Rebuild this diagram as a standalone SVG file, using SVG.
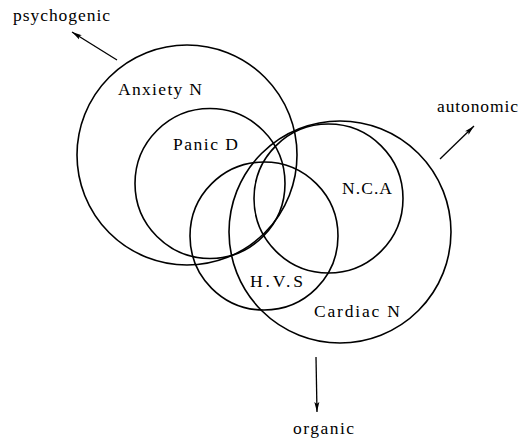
<svg xmlns="http://www.w3.org/2000/svg" width="532" height="440" viewBox="0 0 532 440">
<style>
.c{fill:none;stroke:#000;stroke-width:1.6}
.a{stroke:#000;stroke-width:1.3;fill:none}
.t{font-family:'Liberation Serif','Times New Roman',serif;font-size:17.5px;fill:#000}
</style>
<defs>
<marker id="ah" viewBox="0 0 10 6" refX="10" refY="3" markerWidth="10" markerHeight="6" markerUnits="userSpaceOnUse" orient="auto">
<path d="M0,0.5 L10,3 L0,5.5 L2,3 Z" fill="#000"/>
</marker>
</defs>
<rect width="532" height="440" fill="#fff"/>
<g id="anxiety"><circle class="c" cx="187" cy="155" r="110"/><text class="t" x="118" y="95" textLength="84" lengthAdjust="spacing">Anxiety N</text></g>
<g id="panic"><circle class="c" cx="210" cy="183.5" r="75"/><text class="t" x="173" y="150" textLength="65" lengthAdjust="spacing">Panic D</text></g>
<g id="hvs"><circle class="c" cx="264" cy="236" r="74"/><text class="t" x="250" y="287" textLength="53" lengthAdjust="spacing">H.V.S</text></g>
<g id="nca"><circle class="c" cx="328.5" cy="198.5" r="74.5"/><text class="t" x="342" y="194" textLength="50" lengthAdjust="spacing">N.C.A</text></g>
<g id="cardiac"><circle class="c" cx="340" cy="232" r="111"/><text class="t" x="314" y="317" textLength="86" lengthAdjust="spacing">Cardiac N</text></g>
<g id="psychogenic"><text class="t" x="13" y="21" textLength="97" lengthAdjust="spacing">psychogenic</text></g>
<g id="autonomic"><text class="t" x="437" y="112" textLength="81" lengthAdjust="spacing">autonomic</text></g>
<g id="organic"><text class="t" x="293" y="434" textLength="61" lengthAdjust="spacing">organic</text></g>
<g id="connectors">
<line class="a" x1="117" y1="60" x2="72" y2="32" marker-end="url(#ah)"/>
<line class="a" x1="440" y1="159" x2="474" y2="126" marker-end="url(#ah)"/>
<line class="a" x1="316" y1="357" x2="317" y2="412" marker-end="url(#ah)"/>
</g>
</svg>
